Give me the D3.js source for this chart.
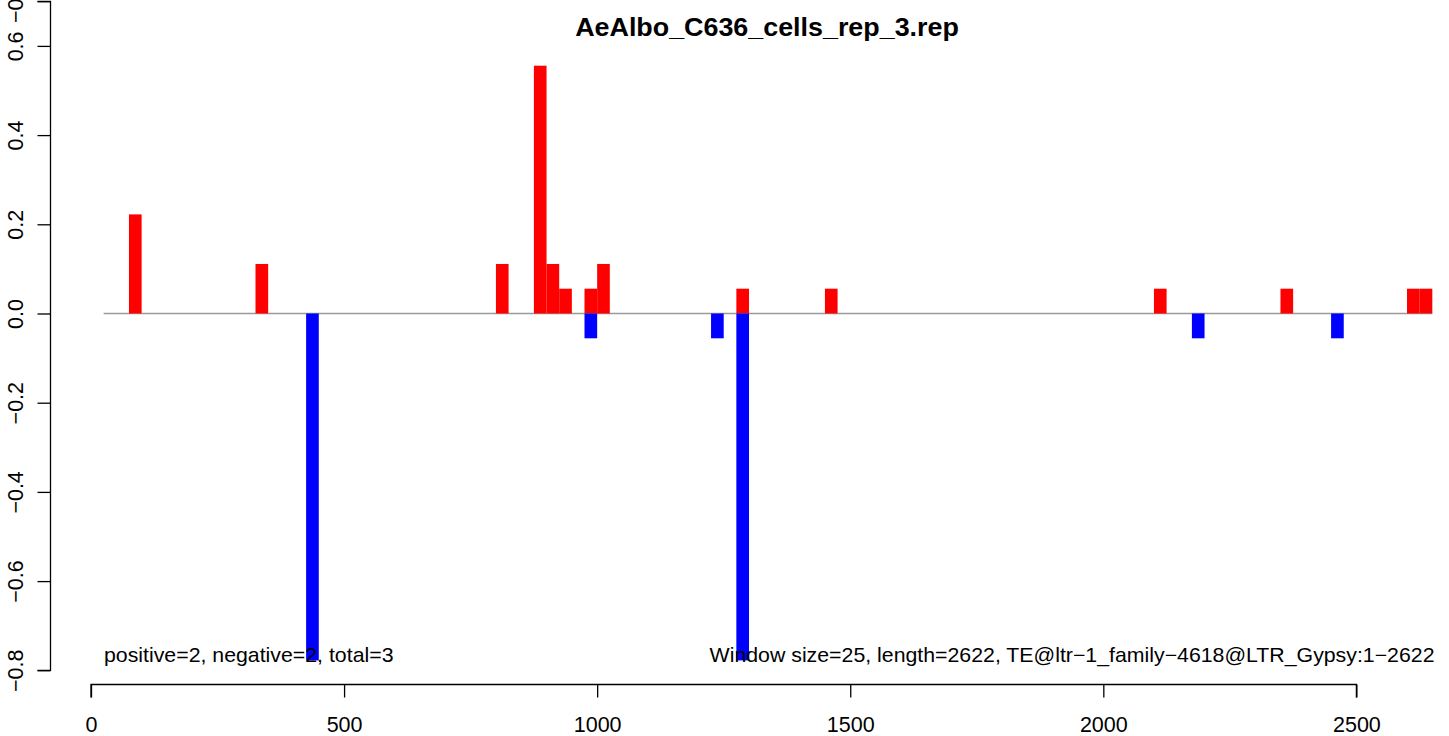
<!DOCTYPE html>
<html>
<head>
<meta charset="utf-8">
<script src="https://cdn.jsdelivr.net/npm/d3@7"></script>
<style>
  html, body { margin: 0; padding: 0; background: #fff; }
  svg { display: block; }
  text { font-family: "Liberation Sans", Arial, Helvetica, sans-serif; fill: #000; }
</style>
</head>
<body>
<svg id="chart" width="1449" height="736"></svg>
<script>
// ---- data ----
const title = "AeAlbo_C636_cells_rep_3.rep";
const windowSize = 25;
const posStarts = [75, 325, 800, 875, 900, 925, 975, 1000, 1275, 1450, 2100, 2350, 2600, 2625];
const posValues = [0.2222, 0.1111, 0.1111, 0.5556, 0.1111, 0.0556, 0.0556, 0.1111, 0.0556, 0.0556, 0.0556, 0.0556, 0.0556, 0.0556];
const negStarts = [425, 975, 1225, 1275, 2175, 2450];
const negValues = [-0.7778, -0.0556, -0.0556, -0.7778, -0.0556, -0.0556];
const xTicks = [0, 500, 1000, 1500, 2000, 2500];
const yTicks = [-0.8, -0.6, -0.4, -0.2, 0.0, 0.2, 0.4, 0.6, 0.7];
const yTickLabels = ["\u22120.8", "\u22120.6", "\u22120.4", "\u22120.2", "0.0", "0.2", "0.4", "0.6", "\u22120.8"];
const baselineRange = [25, 2650];
const leftNote = "positive=2, negative=2, total=3";
const rightNote = "Window size=25, length=2622, TE@ltr\u22121_family\u22124618@LTR_Gypsy:1\u22122622";

// ---- scales ----
const svg = d3.select("#chart");
const x = d3.scaleLinear().domain([0, 2500]).range([91, 1356.4]);
const y = d3.scaleLinear().domain([0, 0.7]).range([313.5, 1.3]);

// baseline
svg.append("line")
  .attr("x1", x(baselineRange[0])).attr("x2", x(baselineRange[1]))
  .attr("y1", y(0)).attr("y2", y(0))
  .attr("stroke", "#9a9a9a").attr("stroke-width", 1.3);

// bars
const pos = posStarts.map((s, i) => ({s, v: posValues[i]}));
const neg = negStarts.map((s, i) => ({s, v: negValues[i]}));
svg.append("g").selectAll("rect").data(pos).join("rect")
  .attr("x", d => x(d.s)).attr("width", d => x(d.s + windowSize) - x(d.s))
  .attr("y", d => y(d.v)).attr("height", d => y(0) - y(d.v))
  .attr("fill", "#ff0000");
svg.append("g").selectAll("rect").data(neg).join("rect")
  .attr("x", d => x(d.s)).attr("width", d => x(d.s + windowSize) - x(d.s))
  .attr("y", y(0)).attr("height", d => y(d.v) - y(0))
  .attr("fill", "#0000ff");

// x axis
const xAxis = d3.axisBottom(x).tickValues(xTicks).tickSize(13).tickPadding(18).tickFormat(d3.format("d"));
const gx = svg.append("g").attr("transform", "translate(0,684.5)").call(xAxis);
gx.select(".domain").attr("stroke", "#000").attr("stroke-width", 1.3).attr("d", `M${x(0)},13V0H${x(2500)}V13`);
gx.selectAll(".tick line").attr("stroke", "#000").attr("stroke-width", 1.3);
gx.selectAll(".tick text").attr("font-size", 21.5).attr("font-family", "Liberation Sans, Arial, sans-serif").attr("fill", "#000")
  .attr("dy", null).attr("y", 47.5);

// y axis
const yAxis = d3.axisLeft(y).tickValues(yTicks).tickSize(13).tickFormat((d, i) => yTickLabels[i]);
const gy = svg.append("g").attr("transform", "translate(50.5,0)").call(yAxis);
gy.select(".domain").attr("stroke", "#000").attr("stroke-width", 1.3).attr("d", `M-13,${y(-0.8)}H0V${y(0.7)}H-13`);
gy.selectAll(".tick line").attr("stroke", "#000").attr("stroke-width", 1.3);
gy.selectAll(".tick text")
  .attr("font-size", 21.5).attr("font-family", "Liberation Sans, Arial, sans-serif").attr("fill", "#000")
  .attr("x", null).attr("dy", null)
  .attr("text-anchor", "middle")
  .attr("transform", "translate(-27.2,0) rotate(-90)");

// helper for slightly widened text
function wideText(tx, ty, sx, size, anchor, str, bold) {
  return svg.append("text")
    .attr("transform", `translate(${tx},${ty}) scale(${sx},1)`)
    .attr("text-anchor", anchor)
    .attr("font-size", size)
    .attr("font-weight", bold ? "bold" : "normal")
    .text(str);
}

// title
wideText(767, 35.5, 1.075, 25, "middle", title, true);

// notes
wideText(104, 661.5, 1.065, 20, "start", leftNote, false);
wideText(1434.5, 661.5, 1.065, 20, "end", rightNote, false);
</script>
</body>
</html>
